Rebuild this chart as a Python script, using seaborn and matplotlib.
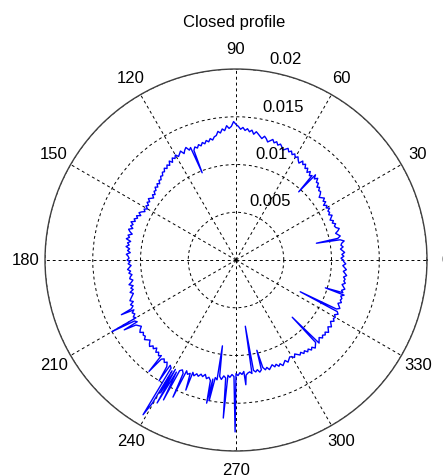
import numpy as np
import pandas as pd
import matplotlib
matplotlib.use("Agg")
import matplotlib.pyplot as plt
import seaborn as sns

# Profile radius sampled every degree (units of 1e-4), starting at 0 deg
radius_e4 = [
    112, 110, 113, 111, 114, 112, 110, 113, 111, 112,   # 0-9
    115, 111, 109, 112, 110, 108, 111, 113, 110, 109,   # 10-19
    111, 108, 110, 107, 109, 111, 108, 110, 109, 112,   # 20-29
    109, 111, 108, 112, 110, 113, 111, 109, 112, 114,   # 30-39
    113, 116, 114, 118, 117, 121, 118, 122, 119, 117,   # 40-49
    121, 118, 122, 120, 124, 122, 125, 121, 123, 126,   # 50-59
    124, 127, 125, 128, 126, 129, 127, 125, 128, 130,   # 60-69
    128, 131, 129, 132, 130, 128, 131, 133, 130, 132,   # 70-79
    134, 136, 133, 137, 135, 138, 136, 139, 137, 140,   # 80-89
    142, 145, 140, 138, 141, 136, 138, 134, 136, 132,   # 90-99
    131, 128, 130, 127, 129, 126, 128, 125, 127, 124,   # 100-109
    126, 123, 127, 125, 129, 127, 124, 128, 126, 124,   # 110-119
    127, 124, 126, 122, 125, 121, 123, 120, 122, 119,   # 120-129
    120, 117, 118, 115, 116, 113, 115, 112, 114, 111,   # 130-139
    112, 109, 111, 108, 110, 112, 109, 111, 108, 110,   # 140-149
    107, 110, 108, 111, 113, 110, 114, 112, 115, 113,   # 150-159
    117, 114, 116, 113, 117, 115, 112, 116, 114, 117,   # 160-169
    112, 115, 113, 116, 112, 114, 111, 115, 113, 112,   # 170-179
    114, 111, 113, 110, 112, 114, 111, 113, 110, 112,   # 180-189
    113, 110, 112, 115, 111, 114, 112, 116, 113, 115,   # 190-199
    117, 119, 116, 120, 118, 121, 119, 122, 120, 123,   # 200-209
    121, 124, 122, 125, 123, 121, 124, 126, 123, 125,   # 210-219
    124, 127, 125, 123, 126, 128, 125, 127, 124, 128,   # 220-229
    126, 129, 127, 130, 128, 131, 129, 133, 130, 132,   # 230-239
    134, 131, 133, 130, 128, 131, 127, 130, 128, 126,   # 240-249
    129, 126, 128, 125, 127, 124, 128, 126, 129, 127,   # 250-259
    125, 127, 123, 126, 122, 124, 121, 123, 120, 122,   # 260-269
    119, 121, 118, 120, 117, 121, 119, 118, 120, 117,   # 270-279
    119, 117, 120, 118, 116, 119, 117, 120, 118, 116,   # 280-289
    119, 117, 120, 118, 121, 119, 117, 120, 118, 116,   # 290-299
    117, 119, 116, 118, 120, 118, 121, 119, 122, 120,   # 300-309
    123, 121, 124, 122, 120, 123, 121, 119, 122, 120,   # 310-319
    122, 120, 123, 121, 119, 122, 120, 118, 121, 119,   # 320-329
    120, 118, 121, 119, 117, 120, 118, 116, 119, 117,   # 330-339
    118, 116, 119, 117, 115, 118, 116, 114, 117, 115,   # 340-349
    116, 114, 117, 115, 113, 116, 114, 112, 115, 113,   # 350-359
]
sample_deg = list(range(360))

# Isolated spikes in the trace: angle (deg) and tip radius (1e-4)
spike_deg = [11.8, 47.4, 111.2, 205.5, 210.0, 212.0, 232.0, 237.5, 239.0,
             239.7, 240.4, 241.1, 242.6, 245.3, 248.9, 258.4, 259.2, 261.0,
             265.4, 269.7, 274.5, 278.0, 283.0, 314.5, 333.7, 342.7]
spike_e4 = [86, 97, 98, 133, 150, 138, 148, 150, 189,
            174, 160, 171, 165, 158, 146, 153, 150, 91,
            166, 180, 131, 70, 97, 84, 75, 98]

r_ticks = [0.005, 0.01, 0.015, 0.02]
r_tick_labels = ["0.005", "0.01", "0.015", "0.02"]
theta_ticks = list(range(0, 360, 30))

# Merge the regular samples with the spikes and close the loop
deg = np.array(sample_deg + spike_deg, dtype=float)
rad = np.array(radius_e4 + spike_e4, dtype=float) * 1e-4
order = np.argsort(deg, kind="stable")
deg, rad = deg[order], rad[order]
deg = np.append(deg, deg[0] + 360)
rad = np.append(rad, rad[0])
df = pd.DataFrame({"theta": np.deg2rad(deg), "r": rad})

sns.set_style("white")
plt.rcParams["font.family"] = ["Liberation Sans", "DejaVu Sans"]
plt.rcParams["font.size"] = 12

fig = plt.figure(figsize=(4.43, 4.75), dpi=100)
fig.patch.set_facecolor("white")
ax = fig.add_axes([0.1016, 0.0505, 0.8623, 0.8042], projection="polar")
ax.set_facecolor("white")

sns.lineplot(data=df, x="theta", y="r", sort=False, estimator=None,
             color=(0, 0, 1), lw=1.0, ax=ax, legend=False)

ax.set_ylim(0, 0.02)
ax.set_xticks(np.deg2rad(theta_ticks))
ax.set_xticklabels([])
ax.set_yticks(r_ticks)
ax.set_yticklabels([])
ax.grid(True, color="black", lw=0.7, ls=(0, (3, 3)))
ax.tick_params(length=0)
ax.spines["polar"].set_color("0.25")
ax.spines["polar"].set_linewidth(1.0)
ax.set_xlabel("")
ax.set_ylabel("")

# Angle labels just outside the outer ring
for a in theta_ticks:
    ax.text(np.deg2rad(a), 0.022, str(a), ha="center", va="center",
            fontsize=12, color="black", clip_on=False)

# Radial labels along the 82 degree direction
for v, lab in zip(r_ticks, r_tick_labels):
    ax.annotate(lab, xy=(np.deg2rad(82), v), xytext=(6.5, 6.5),
                textcoords="offset pixels", ha="left", va="baseline",
                fontsize=12, color="black", annotation_clip=False)

fig.text(234 / 443, 1 - 27 / 475, "Closed profile", ha="center",
         va="baseline", fontsize=12, color="black")

fig.savefig("out.png", dpi=100)
